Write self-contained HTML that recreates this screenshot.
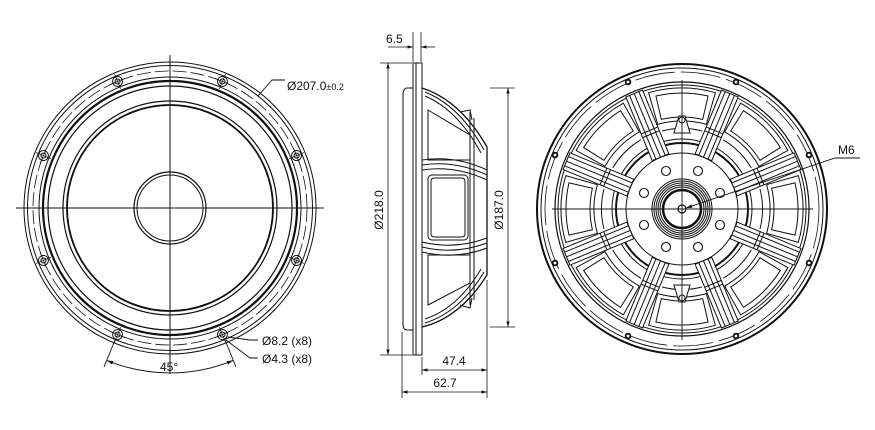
<!DOCTYPE html>
<html><head><style>
html,body{margin:0;padding:0;background:#fff;}
svg{display:block;}
text{font-family:"Liberation Sans",Arial,sans-serif;fill:#111;}
</style></head><body>
<svg width="875" height="430" viewBox="0 0 875 430" xmlns="http://www.w3.org/2000/svg">
<defs>
<marker id="a" viewBox="0 0 10 10" refX="10" refY="5" markerWidth="7" markerHeight="7" orient="auto-start-reverse"><path d="M0,2 L10,5 L0,8 z" fill="#111"/></marker>
<g id="bolt"><circle r="5" fill="none" stroke="#111" stroke-width="1"/><circle r="2.5" fill="none" stroke="#111" stroke-width="1"/><line x1="-8" y1="0" x2="8" y2="0" stroke="#111" stroke-width="0.7"/><line x1="0" y1="-8" x2="0" y2="8" stroke="#111" stroke-width="0.7"/></g>
<g id="spoke" fill="#fff" stroke="#111" stroke-width="1">
<rect x="-9" y="-125" width="18" height="69"/>
<line x1="-5" y1="-125" x2="-5" y2="-56"/><line x1="0" y1="-125" x2="0" y2="-56"/><line x1="5" y1="-125" x2="5" y2="-56"/>
<line x1="-9" y1="-85" x2="9" y2="-85"/><line x1="-9" y1="-81" x2="9" y2="-81"/>
</g>
<g id="win" fill="none" stroke="#111" stroke-width="1">
<path d="M-33.4,-116.3 A121,121 0 0 1 33.4,-116.3 L24.3,-84.6 A88,88 0 0 0 -24.3,-84.6 Z"/>
<path d="M-26.1,-113 A116,116 0 0 1 26.1,-113 L20.7,-89.6 A92,92 0 0 0 -20.7,-89.6 Z"/>
<path d="M-20,-78 A80,80 0 0 1 20,-78" />
</g>
</defs>

<!-- LEFT VIEW -->
<g fill="none" stroke="#111">
<circle cx="170" cy="208" r="146" stroke-width="1"/>
<circle cx="170" cy="208" r="142.5" stroke-width="1"/>
<circle cx="170" cy="208" r="137" stroke-width="0.8" stroke-dasharray="14 4"/>
<circle cx="170" cy="208" r="131" stroke-width="1"/>
<circle cx="170" cy="208" r="127" stroke-width="2.2"/>
<circle cx="170" cy="208" r="122" stroke-width="1.2"/>
<circle cx="170" cy="208" r="107" stroke-width="1.2"/>
<circle cx="170" cy="208" r="103" stroke-width="1.8"/>
<circle cx="170" cy="208" r="36" stroke-width="1.2"/>
<circle cx="170" cy="208" r="33" stroke-width="1"/>
<line x1="16" y1="208" x2="324" y2="208" stroke-width="1"/>
<line x1="170" y1="55" x2="170" y2="374" stroke-width="1"/>
</g>
<g transform="translate(170,208)">
<use href="#bolt" transform="rotate(22.5) translate(0,-137)"/>
<use href="#bolt" transform="rotate(67.5) translate(0,-137)"/>
<use href="#bolt" transform="rotate(112.5) translate(0,-137)"/>
<use href="#bolt" transform="rotate(157.5) translate(0,-137)"/>
<use href="#bolt" transform="rotate(202.5) translate(0,-137)"/>
<use href="#bolt" transform="rotate(247.5) translate(0,-137)"/>
<use href="#bolt" transform="rotate(292.5) translate(0,-137)"/>
<use href="#bolt" transform="rotate(337.5) translate(0,-137)"/>
</g>
<g fill="none" stroke="#111" stroke-width="0.9">
<polyline points="258,96 272,80 285,80"/>
<line x1="115" y1="340" x2="104" y2="367"/>
<line x1="225" y1="340" x2="236" y2="367"/>
<path d="M106.9,360.4 A165,165 0 0 0 233.1,360.4" marker-start="url(#a)" marker-end="url(#a)"/>
<polyline points="228,337 250,340 258,340"/>
<polyline points="226,340 250,358 258,358"/>
</g>
<text x="287" y="90" font-size="12">Ø207.0<tspan font-size="9">±0.2</tspan></text>
<text x="262" y="345" font-size="12">Ø8.2 (x8)</text>
<text x="262" y="363" font-size="12">Ø4.3 (x8)</text>
<text x="160" y="371" font-size="12">45°</text>

<!-- SIDE VIEW -->
<g fill="none" stroke="#111" stroke-width="1">
<rect x="413" y="63" width="9" height="292"/>
<line x1="416" y1="63" x2="416" y2="355"/>
<path d="M413,88 L407,88 Q403,88 403,96 L403,324 Q403,330 407,330 L413,330"/>
<path d="M422,88 Q460,100 487,147 L487,275 Q460,318 422,327" stroke-width="1.3"/>
<path d="M425,92 Q460,106 484,150" /><path d="M425,96 Q458,110 481,153"/>
<path d="M425,323 Q460,312 484,272"/><path d="M425,319 Q458,308 481,269"/>
<path d="M422,160 Q455,155 487,170"/><path d="M422,165 Q455,160 487,175"/><path d="M422,170 Q455,165 487,180"/>
<path d="M422,242 Q455,250 487,238"/><path d="M422,247 Q455,255 487,243"/><path d="M422,252 Q455,260 487,248"/>
<rect x="428" y="175" width="40" height="65" rx="4"/>
<rect x="431" y="178" width="34" height="59" rx="3"/>
<path d="M428,110 L470,135 L470,160 L428,160 Z"/>
<path d="M428,305 L470,283 L470,255 L428,255 Z"/>
<line x1="470" y1="112" x2="470" y2="305"/>
<line x1="474" y1="118" x2="474" y2="300"/>
<path d="M460,112 L470,110 L472,120"/><path d="M460,305 L470,308 L472,298"/>
</g>
<g fill="none" stroke="#111" stroke-width="0.8">
<line x1="413" y1="32" x2="413" y2="62"/><line x1="421" y1="32" x2="421" y2="62"/>
<line x1="388" y1="47" x2="413" y2="47" marker-end="url(#a)"/>
<line x1="435" y1="47" x2="421" y2="47" marker-end="url(#a)"/>
<line x1="380" y1="63" x2="412" y2="63"/><line x1="380" y1="355" x2="412" y2="355"/>
<line x1="388" y1="63" x2="388" y2="355" marker-start="url(#a)" marker-end="url(#a)"/>
<line x1="490" y1="88" x2="515" y2="88"/><line x1="490" y1="327" x2="515" y2="327"/>
<line x1="508" y1="88" x2="508" y2="327" marker-start="url(#a)" marker-end="url(#a)"/>
<line x1="422" y1="357" x2="422" y2="375"/>
<line x1="487" y1="280" x2="487" y2="398"/>
<line x1="402" y1="332" x2="402" y2="398"/>
<line x1="422" y1="370" x2="487" y2="370" marker-start="url(#a)" marker-end="url(#a)"/>
<line x1="402" y1="392" x2="487" y2="392" marker-start="url(#a)" marker-end="url(#a)"/>
</g>
<text x="386" y="43" font-size="12">6.5</text>
<text x="383" y="210" font-size="12" text-anchor="middle" transform="rotate(-90 383 210)">Ø218.0</text>
<text x="503" y="210" font-size="12" text-anchor="middle" transform="rotate(-90 503 210)">Ø187.0</text>
<text x="454" y="365" font-size="12" text-anchor="middle">47.4</text>
<text x="445" y="387" font-size="12" text-anchor="middle">62.7</text>

<!-- RIGHT VIEW -->
<g fill="none" stroke="#111">
<circle cx="682" cy="209" r="145" stroke-width="2"/>
<circle cx="682" cy="209" r="141" stroke-width="1"/>
<circle cx="682" cy="209" r="137" stroke-width="0.8" stroke-dasharray="40 6"/>
<circle cx="682" cy="209" r="127" stroke-width="1.2"/>
<circle cx="682" cy="209" r="124" stroke-width="1"/>
<circle cx="682" cy="209" r="70" stroke-width="1"/>
<circle cx="682" cy="209" r="66" stroke-width="2"/>
<circle cx="682" cy="209" r="56" stroke-width="1"/>
</g>
<g transform="translate(682,209)">
<use href="#win" transform="rotate(0)"/><use href="#win" transform="rotate(45)"/><use href="#win" transform="rotate(90)"/><use href="#win" transform="rotate(135)"/><use href="#win" transform="rotate(180)"/><use href="#win" transform="rotate(225)"/><use href="#win" transform="rotate(270)"/><use href="#win" transform="rotate(315)"/>
<use href="#spoke" transform="rotate(22.5)"/><use href="#spoke" transform="rotate(67.5)"/><use href="#spoke" transform="rotate(112.5)"/><use href="#spoke" transform="rotate(157.5)"/><use href="#spoke" transform="rotate(202.5)"/><use href="#spoke" transform="rotate(247.5)"/><use href="#spoke" transform="rotate(292.5)"/><use href="#spoke" transform="rotate(337.5)"/>
<g fill="#fff" stroke="#111" stroke-width="1">
<path d="M-8,-76 L-3,-93 L3,-93 L8,-76 Z"/><circle cx="0" cy="-89" r="3"/>
<path d="M-8,76 L-3,93 L3,93 L8,76 Z"/><circle cx="0" cy="89" r="3"/>
</g>
<g fill="none" stroke="#111" stroke-width="1.1">
<circle cx="-16" cy="-38" r="4.5"/><circle cx="16" cy="-38" r="4.5"/><circle cx="38" cy="-16" r="4.5"/><circle cx="38" cy="16" r="4.5"/>
<circle cx="16" cy="38" r="4.5"/><circle cx="-16" cy="38" r="4.5"/><circle cx="-38" cy="16" r="4.5"/><circle cx="-38" cy="-16" r="4.5"/>
</g>
<g fill="none" stroke="#111">
<circle r="30" stroke-width="1"/><circle r="28" stroke-width="1"/><circle r="26" stroke-width="1"/><circle r="24" stroke-width="1"/><circle r="22" stroke-width="1"/>
<circle r="19" stroke-width="2.5"/>
<circle r="4" stroke-width="1.2"/>
</g>
<g fill="#111">
<circle cx="-54" cy="-127" r="3.3"/><circle cx="54" cy="-127" r="3.3"/><circle cx="127" cy="-54" r="3.3"/><circle cx="127" cy="54" r="3.3"/>
<circle cx="54" cy="127" r="3.3"/><circle cx="-54" cy="127" r="3.3"/><circle cx="-127" cy="54" r="3.3"/><circle cx="-127" cy="-54" r="3.3"/>
</g>
<g fill="#fff"><circle cx="-54" cy="-127" r="1.4"/><circle cx="54" cy="-127" r="1.4"/><circle cx="127" cy="-54" r="1.4"/><circle cx="127" cy="54" r="1.4"/><circle cx="54" cy="127" r="1.4"/><circle cx="-54" cy="127" r="1.4"/><circle cx="-127" cy="54" r="1.4"/><circle cx="-127" cy="-54" r="1.4"/></g>
</g>
<g fill="none" stroke="#111" stroke-width="0.9">
<line x1="552" y1="209" x2="813" y2="209"/>
<line x1="682" y1="80" x2="682" y2="340"/>
<polyline points="860,158 835,158 686,208" marker-end="url(#a)"/>
</g>
<text x="838" y="154" font-size="12">M6</text>
</svg>
</body></html>
